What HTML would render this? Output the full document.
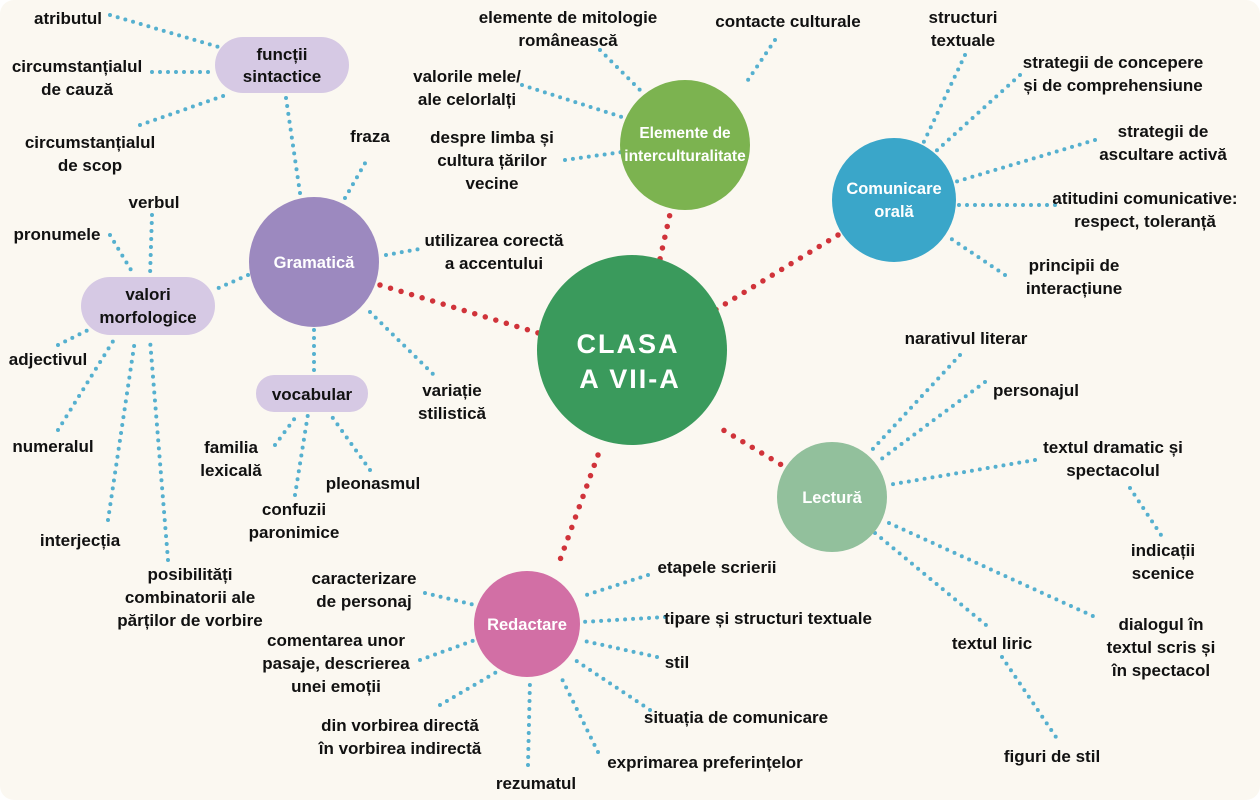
<!DOCTYPE html>
<html><head><meta charset="utf-8"><style>
html,body{margin:0;padding:0;background:#fff;}
svg{display:block;}
text{font-family:"Liberation Sans",sans-serif;font-weight:bold;font-size:17px;fill:#111;text-anchor:middle;}
.b{stroke:#55b0cf;stroke-width:4;stroke-linecap:round;stroke-dasharray:0 8;fill:none;}
.r{stroke:#d0333a;stroke-width:5.5;stroke-linecap:round;stroke-dasharray:0 11;fill:none;}
.w{fill:#fff;font-size:16.5px;}
</style></head><body>
<svg width="1260" height="800" viewBox="0 0 1260 800">
<rect x="0" y="0" width="1260" height="800" rx="14" fill="#fbf8f1"/>
<path class="r" d="M380 285 L545 335"/>
<path class="r" d="M672 205 L658 268"/>
<path class="r" d="M838 235 L712 312"/>
<path class="r" d="M790 470 L715 425"/>
<path class="r" d="M598 455 L560 560"/>
<path class="b" d="M300 193 L286 98"/>
<path class="b" d="M345 198 L368 158"/>
<path class="b" d="M386 255 L425 248"/>
<path class="b" d="M370 312 L435 376"/>
<path class="b" d="M314 330 L314 372"/>
<path class="b" d="M248 275 L214 290"/>
<path class="b" d="M110 15 L222 48"/>
<path class="b" d="M152 72 L214 72"/>
<path class="b" d="M140 125 L226 95"/>
<path class="b" d="M152 215 L150 276"/>
<path class="b" d="M110 235 L134 275"/>
<path class="b" d="M58 345 L88 330"/>
<path class="b" d="M58 430 L115 338"/>
<path class="b" d="M108 520 L135 340"/>
<path class="b" d="M168 560 L150 340"/>
<path class="b" d="M275 445 L298 414"/>
<path class="b" d="M295 495 L308 414"/>
<path class="b" d="M370 470 L330 414"/>
<path class="b" d="M600 50 L645 95"/>
<path class="b" d="M775 40 L748 80"/>
<path class="b" d="M522 85 L625 118"/>
<path class="b" d="M565 160 L622 152"/>
<path class="b" d="M965 55 L920 150"/>
<path class="b" d="M1020 75 L935 152"/>
<path class="b" d="M1095 140 L955 182"/>
<path class="b" d="M1055 205 L957 205"/>
<path class="b" d="M1005 275 L950 238"/>
<path class="b" d="M960 355 L870 452"/>
<path class="b" d="M985 382 L880 460"/>
<path class="b" d="M1035 460 L888 485"/>
<path class="b" d="M1130 488 L1163 538"/>
<path class="b" d="M889 523 L1095 617"/>
<path class="b" d="M875 533 L992 630"/>
<path class="b" d="M1002 657 L1060 743"/>
<path class="b" d="M648 575 L580 597"/>
<path class="b" d="M665 617 L582 622"/>
<path class="b" d="M657 657 L580 640"/>
<path class="b" d="M650 710 L575 660"/>
<path class="b" d="M598 752 L560 675"/>
<path class="b" d="M528 765 L530 680"/>
<path class="b" d="M440 705 L500 670"/>
<path class="b" d="M420 660 L475 640"/>
<path class="b" d="M425 593 L475 605"/>
<circle cx="632" cy="350" r="95" fill="#3a9a5c"/>
<text class="w" x="628" y="353" style="font-size:27px;letter-spacing:2px">CLASA</text>
<text class="w" x="630" y="388" style="font-size:27px;letter-spacing:2px">A VII-A</text>
<circle cx="314" cy="262" r="65" fill="#9c89bf"/>
<text class="w" x="314" y="268">Gramatică</text>
<circle cx="685" cy="145" r="65" fill="#7cb350"/>
<text class="w" x="685" y="138" style="font-size:15.5px">Elemente de</text>
<text class="w" x="685" y="161" style="font-size:15.5px">interculturalitate</text>
<circle cx="894" cy="200" r="62" fill="#3aa6c9"/>
<text class="w" x="894" y="194">Comunicare</text>
<text class="w" x="894" y="217">orală</text>
<circle cx="832" cy="497" r="55" fill="#92c09c"/>
<text class="w" x="832" y="503">Lectură</text>
<circle cx="527" cy="624" r="53" fill="#d26fa5"/>
<text class="w" x="527" y="630">Redactare</text>
<rect x="215" y="37" width="134" height="56" rx="28" fill="#d6c9e4"/>
<text x="282" y="60">funcții</text><text x="282" y="82">sintactice</text>
<rect x="81" y="277" width="134" height="58" rx="29" fill="#d6c9e4"/>
<text x="148" y="300">valori</text><text x="148" y="323">morfologice</text>
<rect x="256" y="375" width="112" height="37" rx="18" fill="#d6c9e4"/>
<text x="312" y="400">vocabular</text>
<text x="68" y="24">atributul</text>
<text x="77" y="72">circumstanțialul</text><text x="77" y="95">de cauză</text>
<text x="90" y="148">circumstanțialul</text><text x="90" y="171">de scop</text>
<text x="370" y="142">fraza</text>
<text x="494" y="246">utilizarea corectă</text><text x="494" y="269">a accentului</text>
<text x="452" y="396">variație</text><text x="452" y="419">stilistică</text>
<text x="154" y="208">verbul</text>
<text x="57" y="240">pronumele</text>
<text x="48" y="365">adjectivul</text>
<text x="53" y="452">numeralul</text>
<text x="80" y="546">interjecția</text>
<text x="190" y="580">posibilități</text><text x="190" y="603">combinatorii ale</text><text x="190" y="626">părților de vorbire</text>
<text x="231" y="453">familia</text><text x="231" y="476">lexicală</text>
<text x="294" y="515">confuzii</text><text x="294" y="538">paronimice</text>
<text x="373" y="489">pleonasmul</text>
<text x="568" y="23">elemente de mitologie</text><text x="568" y="46">românească</text>
<text x="788" y="27">contacte culturale</text>
<text x="467" y="82">valorile mele/</text><text x="467" y="105">ale celorlalți</text>
<text x="492" y="143">despre limba și</text><text x="492" y="166">cultura țărilor</text><text x="492" y="189">vecine</text>
<text x="963" y="23">structuri</text><text x="963" y="46">textuale</text>
<text x="1113" y="68">strategii de concepere</text><text x="1113" y="91">și de comprehensiune</text>
<text x="1163" y="137">strategii de</text><text x="1163" y="160">ascultare activă</text>
<text x="1145" y="204">atitudini comunicative:</text><text x="1145" y="227">respect, toleranță</text>
<text x="1074" y="271">principii de</text><text x="1074" y="294">interacțiune</text>
<text x="966" y="344">narativul literar</text>
<text x="1036" y="396">personajul</text>
<text x="1113" y="453">textul dramatic și</text><text x="1113" y="476">spectacolul</text>
<text x="1163" y="556">indicații</text><text x="1163" y="579">scenice</text>
<text x="1161" y="630">dialogul în</text><text x="1161" y="653">textul scris și</text><text x="1161" y="676">în spectacol</text>
<text x="992" y="649">textul liric</text>
<text x="1052" y="762">figuri de stil</text>
<text x="717" y="573">etapele scrierii</text>
<text x="768" y="624">tipare și structuri textuale</text>
<text x="677" y="668">stil</text>
<text x="736" y="723">situația de comunicare</text>
<text x="705" y="768">exprimarea preferințelor</text>
<text x="536" y="789">rezumatul</text>
<text x="400" y="731">din vorbirea directă</text><text x="400" y="754">în vorbirea indirectă</text>
<text x="336" y="646">comentarea unor</text><text x="336" y="669">pasaje, descrierea</text><text x="336" y="692">unei emoții</text>
<text x="364" y="584">caracterizare</text><text x="364" y="607">de personaj</text>
</svg>
</body></html>
